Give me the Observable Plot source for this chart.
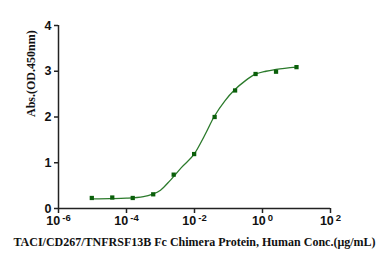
<!DOCTYPE html>
<html>
<head>
<meta charset="utf-8">
<script src="https://cdn.jsdelivr.net/npm/d3@7"></script>
<script src="https://cdn.jsdelivr.net/npm/@observablehq/plot@0.6"></script>
<style>
  html, body { margin: 0; padding: 0; background: #fff; }
</style>
</head>
<body>
<div id="chart"></div>
<script>
// measured points (µg/mL, OD450)
const conc = [10, 2.5, 0.625, 0.15625, 0.0390625, 0.009765625, 0.00244140625, 0.0006103515625, 0.000152587890625, 0.00003814697265625, 0.0000095367431640625];
const absorb = [3.09, 2.99, 2.94, 2.58, 2.00, 1.19, 0.74, 0.31, 0.23, 0.24, 0.23];

// fitted curve (log10 conc, OD450)
const curveLogConc = [-5.0, -4.5, -4.0, -3.5, -3.25, -3.0, -2.72, -2.38, -2.0, -1.7, -1.42, -1.1, -0.81, -0.51, -0.22, 0.1, 0.4, 1.0];
const curveAbs =     [0.21, 0.215, 0.225, 0.26, 0.31, 0.40, 0.61, 0.90, 1.20, 1.60, 2.01, 2.36, 2.60, 2.79, 2.93, 3.00, 3.04, 3.09];

const xTicks = [1e-6, 1e-4, 1e-2, 1, 1e2];
const xTickExp = ["-6", "-4", "-2", "0", "2"];
const yTicks = [0, 1, 2, 3, 4];

const xTitle = "TACI/CD267/TNFRSF13B Fc Chimera Protein, Human Conc.(μg/mL)";
const yTitle = "Abs.(OD.450nm)";

const points = conc.map((c, i) => ({c, a: absorb[i]}));
const curve = curveLogConc.map((l, i) => ({c: Math.pow(10, l), a: curveAbs[i]}));

const axisColor = "#222";
const green = "#0a5f0a";
const lineGreen = "#2b7a2b";

const chart = Plot.plot({
  width: 390,
  height: 266,
  marginLeft: 58,
  marginRight: 60,
  marginTop: 25,
  marginBottom: 58,
  style: {fontFamily: "Liberation Sans, Arial, sans-serif", background: "#fff"},
  x: {type: "log", domain: [1e-6, 1e2]},
  y: {domain: [0, 4]},
  marks: [
    Plot.ruleY([0], {stroke: axisColor, strokeWidth: 1.5}),
    Plot.ruleX([1e-6], {y1: 0, y2: 4, stroke: axisColor, strokeWidth: 1.5}),
    Plot.axisX({
      ticks: xTicks,
      tickSize: 5,
      tickPadding: 3,
      stroke: axisColor,
      strokeWidth: 1.5,
      fontSize: 12.5,
      fontWeight: "bold",
      fill: "#111",
      tickFormat: (d) => "10^" + xTickExp[xTicks.indexOf(d)],
      label: null
    }),
    Plot.axisY({
      ticks: yTicks,
      tickSize: 4,
      tickPadding: 3,
      stroke: axisColor,
      strokeWidth: 1.5,
      fontSize: 12.5,
      fontWeight: "bold",
      fill: "#111",
      tickFormat: d => String(d),
      label: null
    }),
    Plot.line(curve, {x: "c", y: "a", stroke: lineGreen, strokeWidth: 1.3, curve: "monotone-x"}),
    Plot.dot(points, {x: "c", y: "a", symbol: "square", r: 2.4, fill: green, stroke: "none"}),
    Plot.text([xTitle], {
      frameAnchor: "bottom", dy: 37, text: d => d,
      fontFamily: "Liberation Serif, Times New Roman, serif", fontWeight: "bold", fontSize: 12, fill: "#111"
    }),
    Plot.text([yTitle], {
      frameAnchor: "left", dx: -27, rotate: -90, text: d => d,
      fontFamily: "Liberation Serif, Times New Roman, serif", fontWeight: "bold", fontSize: 12, fill: "#111"
    })
  ]
});

// render superscript exponents in x tick labels
d3.select(chart).selectAll('[aria-label="x-axis tick label"] text').each(function() {
  const t = d3.select(this);
  const parts = t.text().split("^");
  t.text(null);
  t.append("tspan").text(parts[0]);
  t.append("tspan").attr("dy", "-0.45em").attr("font-size", 9.5).attr("dx", 2).text(parts[1]);
});

document.getElementById("chart").appendChild(chart);
</script>
</body>
</html>
